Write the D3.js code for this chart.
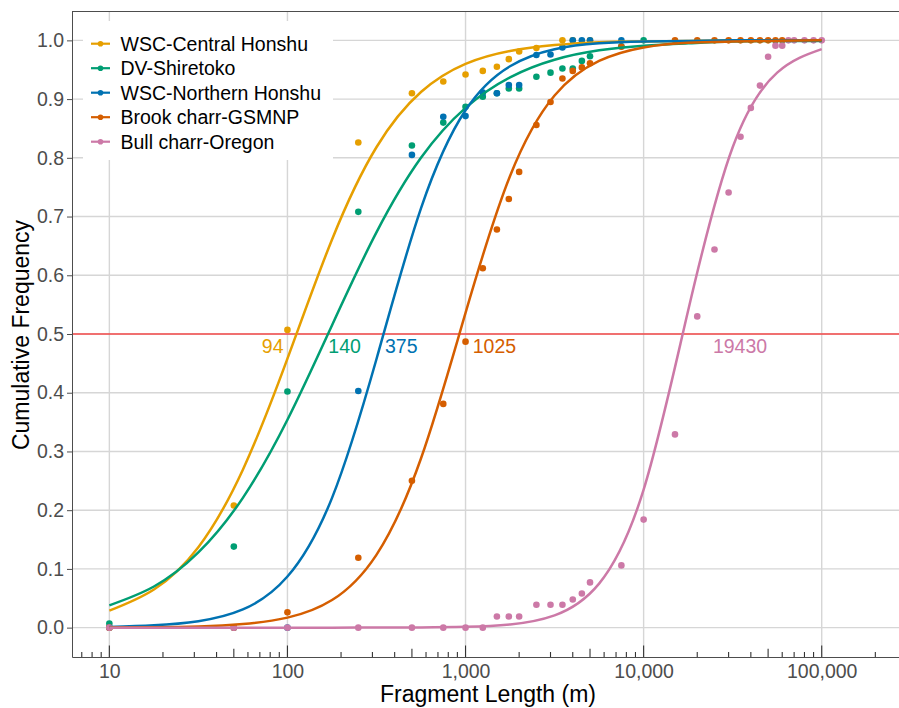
<!DOCTYPE html>
<html>
<head>
<meta charset="utf-8">
<script src="https://cdn.jsdelivr.net/npm/d3@7"></script>
<style>
  body { margin: 0; background: #fff; }
  svg { display: block; font-family: "Liberation Sans", Arial, sans-serif; }
</style>
</head>
<body>
<svg></svg>
<script>
// series names + colours (legend order)
var seriesNames = ["WSC-Central Honshu", "DV-Shiretoko", "WSC-Northern Honshu", "Brook charr-GSMNP", "Bull charr-Oregon"];
var seriesColors = ["#E69F00", "#009E73", "#0072B2", "#D55E00", "#CC79A7"];

// observed points [fragment length, cumulative frequency]
var centralHonshuPts = [[10,0],[50,0.208],[100,0.507],[250,0.826],[500,0.910],[750,0.930],[1000,0.942],[1250,0.948],[1500,0.955],[1750,0.968],[2000,0.981],[2500,0.987],[3500,1],[4000,1],[5000,1]];
var shiretokoPts = [[10,0.007],[50,0.138],[100,0.402],[250,0.708],[500,0.821],[750,0.860],[1000,0.887],[1250,0.904],[1500,0.910],[1750,0.918],[2000,0.918],[2500,0.938],[3000,0.945],[3500,0.952],[4000,0.952],[4500,0.965],[5000,0.973],[7500,0.990],[10000,1]];
var northernHonshuPts = [[10,0],[50,0],[100,0],[250,0.403],[500,0.805],[750,0.870],[1000,0.871],[1250,0.911],[1500,0.910],[1750,0.924],[2000,0.924],[2500,0.975],[3000,0.976],[3500,0.988],[4000,1],[4500,1],[5000,1],[7500,1]];
var gsmnpPts = [[10,0],[50,0],[100,0.026],[250,0.119],[500,0.250],[750,0.381],[1000,0.487],[1250,0.612],[1500,0.678],[1750,0.730],[2000,0.776],[2500,0.856],[3000,0.895],[3500,0.935],[4000,0.948],[4500,0.954],[5000,0.961],[7500,0.989],[15000,1],[20000,1],[25000,1],[30000,1],[35000,1],[40000,1],[45000,1],[50000,1],[55000,1],[60000,1]];
var oregonPts = [[10,0],[50,0],[100,0],[250,0],[500,0],[750,0],[1000,0],[1250,0],[1500,0.019],[1750,0.019],[2000,0.019],[2500,0.039],[3000,0.039],[3500,0.039],[4000,0.048],[4500,0.058],[5000,0.077],[7500,0.106],[10000,0.184],[15000,0.329],[20000,0.530],[25000,0.644],[30000,0.741],[35000,0.836],[40000,0.885],[45000,0.923],[50000,0.972],[55000,0.991],[60000,0.991],[65000,1],[70000,1],[80000,1],[90000,1],[100000,1]];

var curveLengths = [10, 17.8, 31.6, 56.2, 100, 178, 316, 562, 1000, 1778, 3162, 5623, 10000, 17783, 31623, 56234, 100000];
var centralHonshuFit = [0.029, 0.065, 0.137, 0.269, 0.458, 0.661, 0.818, 0.912, 0.960, 0.982, 0.992, 0.997, 0.998, 0.999, 1, 1, 1];
var shiretokoFit = [0.038, 0.070, 0.128, 0.221, 0.354, 0.515, 0.673, 0.800, 0.885, 0.937, 0.967, 0.983, 0.991, 0.995, 0.998, 0.999, 0.999];
var northernHonshuFit = [0.001, 0.004, 0.011, 0.031, 0.087, 0.221, 0.457, 0.714, 0.881, 0.956, 0.985, 0.995, 0.998, 0.999, 1, 1, 1];
var gsmnpFit = [0.0002, 0.0007, 0.002, 0.006, 0.017, 0.047, 0.124, 0.288, 0.536, 0.769, 0.906, 0.965, 0.988, 0.996, 0.998, 0.9995, 1];
var oregonFit = [0, 0, 0, 0, 0, 0, 0.0001, 0.0004, 0.0014, 0.0055, 0.021, 0.075, 0.235, 0.540, 0.818, 0.945, 0.985];

// median labels
var medianLabels = ["94", "140", "375", "1025", "19430"];
var medianLabelX = [71.8, 169.7, 353, 1098, 24500];
var medianLabelY = 0.468;

var yTicks = [0, 0.1, 0.2, 0.3, 0.4, 0.5, 0.6, 0.7, 0.8, 0.9, 1.0];
var xTicks = [10, 100, 1000, 10000, 100000];

var allPts = [centralHonshuPts, shiretokoPts, northernHonshuPts, gsmnpPts, oregonPts];
var allFits = [centralHonshuFit, shiretokoFit, northernHonshuFit, gsmnpFit, oregonFit];

var svg = d3.select("svg")
            .attr("width", 899)
            .attr("height", 708);

var margins =
{
  left:72,
  right:0,
  top:11,
  bottom:51
}

var xScale = d3.scaleLog()
               .domain([6.17, 271600])
               .range([margins.left, 899 - margins.right]);

var yScale = d3.scaleLinear()
               .domain([-0.05, 1.05])
               .range([708 - margins.bottom, margins.top]);

var x0 = margins.left, x1 = 899 - margins.right;
var y0 = 708 - margins.bottom, y1 = margins.top;

// grid
svg.append("g").selectAll("line")
   .data(yTicks)
   .enter()
   .append("line")
   .attr("x1", x0).attr("x2", x1)
   .attr("y1", function(d){ return yScale(d); })
   .attr("y2", function(d){ return yScale(d); })
   .attr("stroke", "#d6d6d6")
   .attr("stroke-width", 1.4);

svg.append("g").selectAll("line")
   .data(xTicks)
   .enter()
   .append("line")
   .attr("y1", y0).attr("y2", y1)
   .attr("x1", function(d){ return xScale(d); })
   .attr("x2", function(d){ return xScale(d); })
   .attr("stroke", "#d6d6d6")
   .attr("stroke-width", 1.4);

// 50% line
svg.append("line")
   .attr("x1", x0).attr("x2", x1)
   .attr("y1", yScale(0.5)).attr("y2", yScale(0.5))
   .attr("stroke", "#ff0000")
   .attr("stroke-width", 1.2);

// points
allPts.forEach(function(pts, i) {
  svg.append("g").selectAll("circle")
     .data(pts)
     .enter()
     .append("circle")
     .attr("cx", function(d){ return xScale(d[0]); })
     .attr("cy", function(d){ return yScale(d[1]); })
     .attr("r", 3.3)
     .attr("fill", seriesColors[i]);
});

// fitted lines
var line = d3.line()
             .x(function(d){ return xScale(d[0]); })
             .y(function(d){ return yScale(d[1]); })
             .curve(d3.curveNatural);

allFits.forEach(function(fit, i) {
  svg.append("path")
     .datum(curveLengths.map(function(x, j){ return [x, fit[j]]; }))
     .attr("d", line)
     .attr("fill", "none")
     .attr("stroke", seriesColors[i])
     .attr("stroke-width", 2.5);
});

// median labels
svg.append("g").selectAll("text")
   .data(medianLabels)
   .enter()
   .append("text")
   .attr("x", function(d, i){ return xScale(medianLabelX[i]); })
   .attr("y", yScale(medianLabelY))
   .attr("fill", function(d, i){ return seriesColors[i]; })
   .attr("font-size", 19.5)
   .text(function(d){ return d; });

// panel border top + log ticks
svg.append("line")
   .attr("x1", x0).attr("x2", x1)
   .attr("y1", y1 + 0.5).attr("y2", y1 + 0.5)
   .attr("stroke", "#4d4d4d")
   .attr("stroke-width", 1);

var minor = xScale.ticks();
svg.append("g").selectAll("line")
   .data(minor)
   .enter()
   .append("line")
   .attr("x1", function(d){ return xScale(d); })
   .attr("x2", function(d){ return xScale(d); })
   .attr("y1", y0)
   .attr("y2", function(d) {
     var m = Math.round(d / Math.pow(10, Math.floor(Math.log10(d) + 1e-9)));
     var len = m === 1 ? 11.5 : (m === 5 ? 8.3 : 5);
     return y0 - len;
   })
   .attr("stroke", "#333")
   .attr("stroke-width", 1.1);

// axes
var yAxis = d3.axisLeft(yScale)
              .tickValues(yTicks)
              .tickFormat(d3.format(".1f"))
              .tickSize(5)
              .tickSizeOuter(0)
              .tickPadding(3);

var gy = svg.append("g")
            .attr("transform", "translate(" + x0 + ",0)")
            .call(yAxis);
gy.selectAll("text").attr("font-size", 19.5).attr("fill", "#4d4d4d").attr("font-family", "Liberation Sans, Arial, sans-serif");
gy.selectAll("line").attr("stroke", "#4d4d4d");
gy.select(".domain").attr("stroke", "#4d4d4d");

var xAxis = d3.axisBottom(xScale)
              .tickValues(xTicks)
              .tickFormat(d3.format(","))
              .tickSize(0)
              .tickSizeOuter(0)
              .tickPadding(7.5);

var gx = svg.append("g")
            .attr("transform", "translate(0," + y0 + ")")
            .call(xAxis);
gx.selectAll("text").attr("font-size", 19.5).attr("fill", "#4d4d4d").attr("font-family", "Liberation Sans, Arial, sans-serif");
gx.select(".domain").attr("stroke", "#4d4d4d");

// axis titles
svg.append("text")
   .attr("x", 488)
   .attr("y", 702)
   .attr("text-anchor", "middle")
   .attr("font-size", 23)
   .text("Fragment Length (m)");

svg.append("text")
   .attr("transform", "translate(29,335) rotate(-90)")
   .attr("text-anchor", "middle")
   .attr("font-size", 23)
   .text("Cumulative Frequency");

// legend
var legend = svg.append("g");
legend.append("rect")
      .attr("x", 83).attr("y", 21)
      .attr("width", 250).attr("height", 139)
      .attr("fill", "#fff");

var rows = legend.selectAll("g.row")
                 .data(seriesNames)
                 .enter()
                 .append("g")
                 .attr("transform", function(d, i){ return "translate(0," + (43.7 + i * 24.5) + ")"; });

rows.append("line")
    .attr("x1", 91).attr("x2", 110)
    .attr("stroke", function(d, i){ return seriesColors[i]; })
    .attr("stroke-width", 2.2);
rows.append("circle")
    .attr("cx", 100.5).attr("r", 2.8)
    .attr("fill", function(d, i){ return seriesColors[i]; });
rows.append("text")
    .attr("x", 120.5)
    .attr("dy", "0.35em")
    .attr("font-size", 19.5)
    .attr("fill", "#000")
    .text(function(d){ return d; });
</script>
</body>
</html>
